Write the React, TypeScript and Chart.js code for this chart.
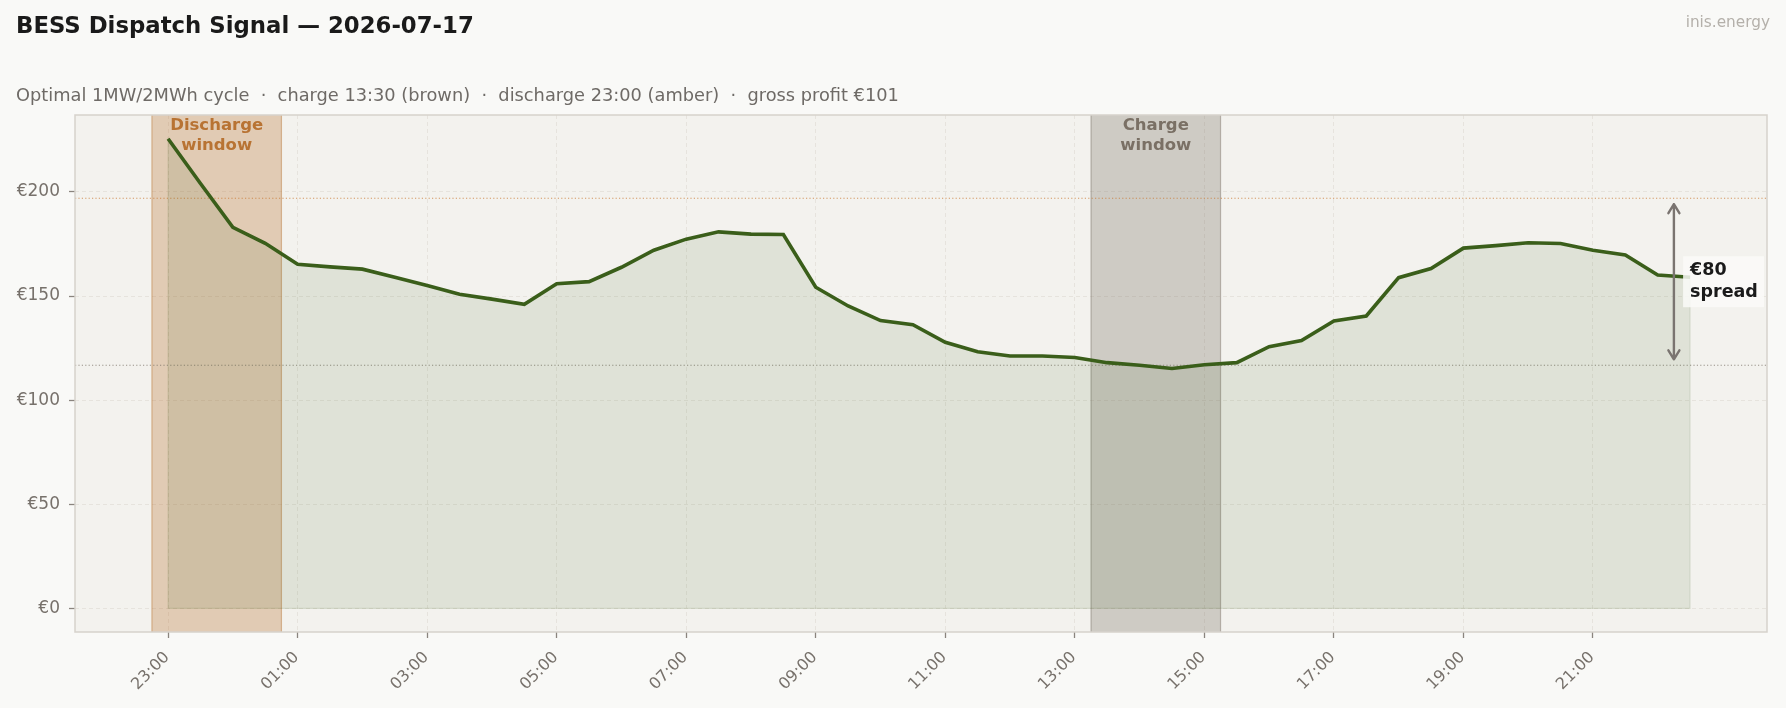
import React, { useEffect, useRef } from 'react';
import { Chart, registerables } from 'chart.js';

Chart.register(...registerables);

// ---- data ----
// half-hourly day-ahead price, slot 0 = 23:00 (previous day) ... slot 47 = 22:30
const PRICES: number[] = [
  225.5, 204, 183, 175.3, 165.2, 164, 162.9, 159, 155, 150.8, 148.5, 146,
  155.9, 156.9, 163.8, 172, 177.3, 180.8, 179.7, 179.5, 154.2, 145.2, 138.2, 136.2,
  127.8, 123.2, 121.2, 121.2, 120.5, 118, 116.8, 115.2, 117, 118, 125.7, 128.6,
  138, 140.4, 158.8, 163.2, 173, 174.2, 175.6, 175.2, 172, 169.7, 160.1, 159,
];
const TICK_POS: number[] = [0, 4, 8, 12, 16, 20, 24, 28, 32, 36, 40, 44];
const TICK_LABELS: string[] = ['23:00', '01:00', '03:00', '05:00', '07:00', '09:00', '11:00', '13:00', '15:00', '17:00', '19:00', '21:00'];
const Y_TICKS: number[] = [0, 50, 100, 150, 200];
const DISCHARGE_START = 0; // 23:00
const CHARGE_START = 29; // 13:30
const WINDOW_SLOTS = 4; // 2 h
const SPREAD_LABEL = ['€80', 'spread'];
const TITLE = 'BESS Dispatch Signal — 2026-07-17';
const SUBTITLE = 'Optimal 1MW/2MWh cycle  ·  charge 13:30 (brown)  ·  discharge 23:00 (amber)  ·  gross profit €101';
const WATERMARK = 'inis.energy';

const X_MIN = -2.875;
const X_MAX = 49.375;
const Y_MIN = -11.3;
const Y_MAX = 236.9;

const FONT = '"DejaVu Sans", sans-serif';
const TICK_COLOR = '#77716b';

const mean = (a: number[]) => a.reduce((s, v) => s + v, 0) / a.length;
const DISCHARGE_AVG = mean(PRICES.slice(DISCHARGE_START, DISCHARGE_START + WINDOW_SLOTS));
const CHARGE_AVG = mean(PRICES.slice(CHARGE_START, CHARGE_START + WINDOW_SLOTS));

const bessPlugin = {
  id: 'bess',
  beforeDraw(chart: any) {
    const { ctx, chartArea: a } = chart;
    ctx.save();
    ctx.fillStyle = '#f9f9f7';
    ctx.fillRect(0, 0, chart.width, chart.height);
    ctx.fillStyle = '#f3f2ee';
    ctx.fillRect(a.left, a.top, a.right - a.left, a.bottom - a.top);
    ctx.restore();
  },
  beforeDatasetsDraw(chart: any) {
    const { ctx, chartArea: a, scales } = chart;
    const x = scales.x, y = scales.y;
    ctx.save();
    ctx.beginPath();
    ctx.rect(a.left, a.top, a.right - a.left, a.bottom - a.top);
    ctx.clip();
    const span = (s: number, e: number, fill: string, stroke: string) => {
      const x1 = x.getPixelForValue(s), x2 = x.getPixelForValue(e);
      ctx.fillStyle = fill;
      ctx.fillRect(x1, a.top, x2 - x1, a.bottom - a.top);
      ctx.strokeStyle = stroke;
      ctx.lineWidth = 1.2;
      ctx.beginPath();
      ctx.moveTo(x1, a.top); ctx.lineTo(x1, a.bottom);
      ctx.moveTo(x2, a.top); ctx.lineTo(x2, a.bottom);
      ctx.stroke();
    };
    span(DISCHARGE_START - 0.5, DISCHARGE_START + WINDOW_SLOTS - 0.5, 'rgba(184,115,51,0.31)', 'rgba(184,115,51,0.45)');
    span(CHARGE_START - 0.5, CHARGE_START + WINDOW_SLOTS - 0.5, 'rgba(122,112,101,0.30)', 'rgba(122,112,101,0.45)');

    // reference dotted lines
    const hline = (v: number, color: string) => {
      const py = y.getPixelForValue(v);
      ctx.strokeStyle = color;
      ctx.lineWidth = 1.1;
      ctx.setLineDash([1.2, 2.2]);
      ctx.beginPath();
      ctx.moveTo(a.left, py); ctx.lineTo(a.right, py);
      ctx.stroke();
    };
    hline(DISCHARGE_AVG, 'rgba(200,120,50,0.75)');
    hline(CHARGE_AVG, 'rgba(122,112,101,0.75)');
    ctx.setLineDash([]);

    // faint outline of the filled area
    ctx.strokeStyle = 'rgba(58,94,26,0.12)';
    ctx.lineWidth = 1.2;
    ctx.beginPath();
    ctx.moveTo(x.getPixelForValue(0), y.getPixelForValue(0));
    PRICES.forEach((v, i) => ctx.lineTo(x.getPixelForValue(i), y.getPixelForValue(v)));
    ctx.lineTo(x.getPixelForValue(PRICES.length - 1), y.getPixelForValue(0));
    ctx.closePath();
    ctx.stroke();
    ctx.restore();
  },
  afterDraw(chart: any) {
    const { ctx, chartArea: a, scales } = chart;
    const x = scales.x, y = scales.y;
    ctx.save();
    // frame
    ctx.strokeStyle = '#d6d2cc';
    ctx.lineWidth = 1.5;
    ctx.strokeRect(a.left, a.top, a.right - a.left, a.bottom - a.top);

    // window labels
    ctx.textAlign = 'center';
    ctx.textBaseline = 'alphabetic';
    ctx.font = `bold 16.5px ${FONT}`;
    const dx = x.getPixelForValue(DISCHARGE_START + WINDOW_SLOTS / 2 - 0.5);
    ctx.fillStyle = '#b87333';
    ctx.fillText('Discharge', dx, a.top + 14.5);
    ctx.fillText('window', dx, a.top + 35);
    const cx = x.getPixelForValue(CHARGE_START + WINDOW_SLOTS / 2 - 0.5);
    ctx.fillStyle = '#7a7065';
    ctx.fillText('Charge', cx, a.top + 14.5);
    ctx.fillText('window', cx, a.top + 35);

    // spread arrow
    const ax = x.getPixelForValue(PRICES.length - 1.5);
    const yTop = y.getPixelForValue(DISCHARGE_AVG) + 6;
    const yBot = y.getPixelForValue(CHARGE_AVG) - 6;
    ctx.strokeStyle = '#7a7470';
    ctx.lineWidth = 2.4;
    ctx.lineCap = 'round';
    ctx.lineJoin = 'round';
    ctx.beginPath();
    ctx.moveTo(ax, yTop); ctx.lineTo(ax, yBot);
    ctx.moveTo(ax - 5.5, yTop + 9); ctx.lineTo(ax, yTop); ctx.lineTo(ax + 5.5, yTop + 9);
    ctx.moveTo(ax - 5.5, yBot - 9); ctx.lineTo(ax, yBot); ctx.lineTo(ax + 5.5, yBot - 9);
    ctx.stroke();

    // spread label
    const tx = x.getPixelForValue(PRICES.length - 1);
    const my = y.getPixelForValue((DISCHARGE_AVG + CHARGE_AVG) / 2);
    ctx.fillStyle = 'rgba(250,250,248,0.85)';
    ctx.fillRect(tx - 7, my - 25.5, 81, 51);
    ctx.fillStyle = '#1a1a1a';
    ctx.textAlign = 'left';
    ctx.font = `bold 17.5px ${FONT}`;
    ctx.fillText(SPREAD_LABEL[0], tx, my - 6.8);
    ctx.fillText(SPREAD_LABEL[1], tx, my + 14.8);

    // titles
    ctx.textAlign = 'left';
    ctx.fillStyle = '#1a1a1a';
    ctx.font = `bold 22.8px ${FONT}`;
    ctx.fillText(TITLE, 16, 33);
    ctx.fillStyle = '#6e6a66';
    ctx.font = `17.8px ${FONT}`;
    ctx.fillText(SUBTITLE, 16, 101);
    ctx.fillStyle = '#b4b0aa';
    ctx.textAlign = 'right';
    ctx.font = `15.3px ${FONT}`;
    ctx.fillText(WATERMARK, 1770, 27);
    ctx.restore();
  },
};

export default function App() {
  const ref = useRef<HTMLCanvasElement | null>(null);
  useEffect(() => {
    document.body.style.margin = '0';
    document.body.style.background = '#f9f9f7';
    const canvas = ref.current;
    if (!canvas) return;
    const chart = new Chart(canvas, {
      type: 'line',
      data: {
        datasets: [
          {
            data: PRICES.map((v, i) => ({ x: i, y: v })),
            borderColor: '#3a5e1a',
            borderWidth: 3.6,
            backgroundColor: 'rgba(58,94,26,0.105)',
            fill: 'origin',
            pointRadius: 0,
            tension: 0,
          },
        ],
      },
      options: {
        responsive: false,
        animation: false,
        layout: { padding: { left: 0, right: 19, top: 115, bottom: 0 } },
        plugins: {
          legend: { display: false },
          tooltip: { enabled: false },
          title: { display: false },
        },
        scales: {
          x: {
            type: 'linear',
            min: X_MIN,
            max: X_MAX,
            afterBuildTicks: (s: any) => { s.ticks = TICK_POS.map((v) => ({ value: v })); },
            afterFit: (s: any) => { s.height = 76; },
            ticks: {
              autoSkip: false,
              minRotation: 45,
              maxRotation: 45,
              padding: 10,
              labelOffset: -1,
              color: TICK_COLOR,
              font: { family: FONT, size: 16 },
              callback: (v: any) => { const k = TICK_POS.indexOf(Number(v)); return k >= 0 ? TICK_LABELS[k] : ''; },
            },
            grid: { color: '#e6e3dd', lineWidth: 1, tickLength: 6, tickColor: '#8a847e', tickWidth: 1.3, tickBorderDash: [] },
            border: { display: false, dash: [4, 3] },
          },
          y: {
            type: 'linear',
            min: Y_MIN,
            max: Y_MAX,
            afterBuildTicks: (s: any) => { s.ticks = Y_TICKS.map((v) => ({ value: v })); },
            afterFit: (s: any) => { s.width = 75; },
            ticks: {
              padding: 9,
              color: TICK_COLOR,
              font: { family: FONT, size: 17 },
              callback: (v: any) => `€${v}`,
            },
            grid: { color: '#e6e3dd', lineWidth: 1, tickLength: 6, tickColor: '#8a847e', tickWidth: 1.3, tickBorderDash: [] },
            border: { display: false, dash: [4, 3] },
          },
        },
      },
      plugins: [bessPlugin],
    } as any);
    return () => chart.destroy();
  }, []);
  return (
    <div style={{ width: 1786, height: 708, background: '#f9f9f7' }}>
      <canvas ref={ref} width={1786} height={708} style={{ display: 'block', width: 1786, height: 708 }} />
    </div>
  );
}
